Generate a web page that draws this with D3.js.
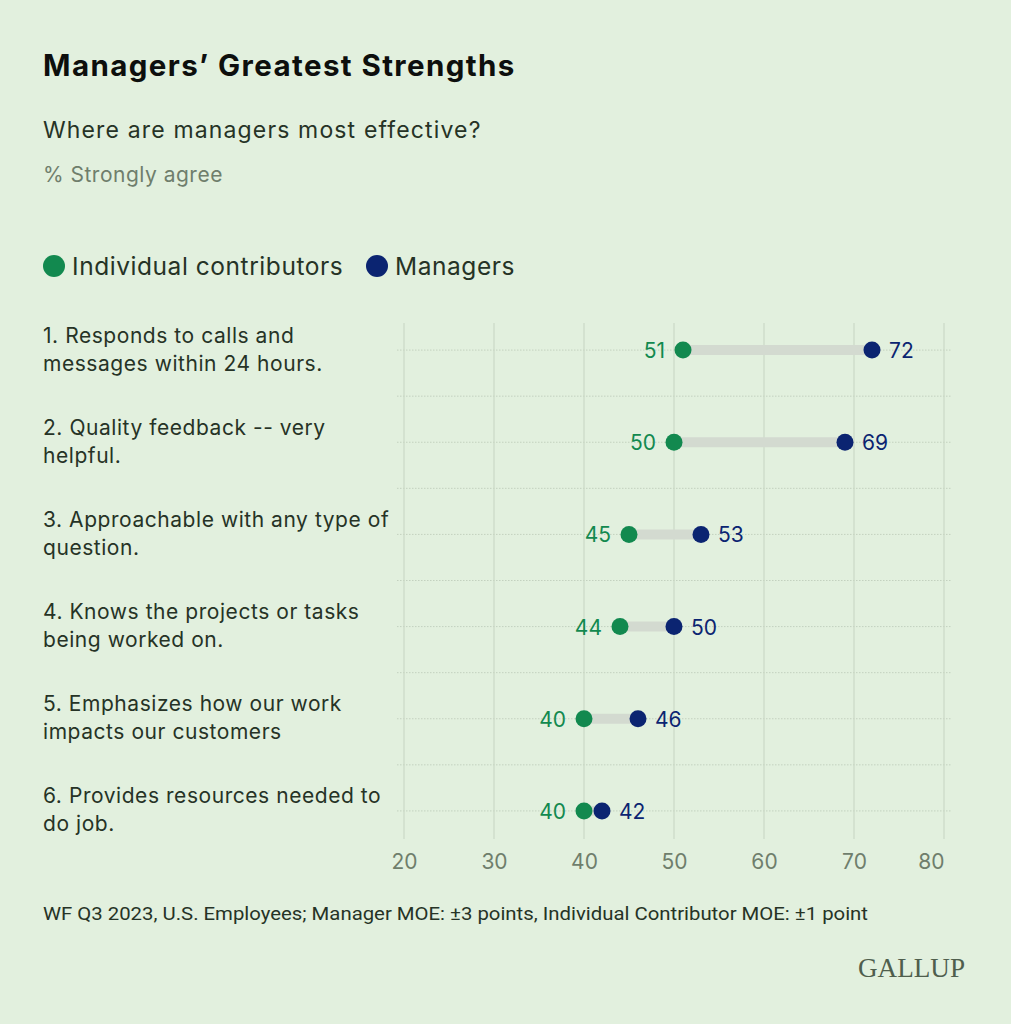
<!DOCTYPE html>
<html>
<head>
<meta charset="utf-8">
<script src="https://cdn.jsdelivr.net/npm/d3@7/dist/d3.min.js"></script>
<style>
  html, body { margin: 0; padding: 0; background: #e2f0de; }
  svg { display: block; }
</style>
</head>
<body>
<svg id="chart" width="1011" height="1024" font-family="Inter, 'Noto Sans', sans-serif"></svg>
<script>
// ---- data ----
const categories = [
  ["1. Responds to calls and", "messages within 24 hours."],
  ["2. Quality feedback -- very", "helpful."],
  ["3. Approachable with any type of", "question."],
  ["4. Knows the projects or tasks", "being worked on."],
  ["5. Emphasizes how our work", "impacts our customers"],
  ["6. Provides resources needed to", "do job."]
];
const individualContributors = [51, 50, 45, 44, 40, 40];
const managers = [72, 69, 53, 50, 46, 42];
const xTicks = [20, 30, 40, 50, 60, 70, 80];
const seriesNames = ["Individual contributors", "Managers"];

// ---- style ----
const BG = "#e2f0de";
const GREEN = "#12894f";
const NAVY = "#0b2471";
const GRID = "#cbd9c7";
const TEXT = "#263326";
const GREY = "#6f7e6c";

const svg = d3.select("#chart");
svg.append("rect").attr("width", 1011).attr("height", 1024).attr("fill", BG);

// Titles
svg.append("text").attr("x", 43).attr("y", 76)
  .attr("font-size", 29.5).attr("font-weight", 700).attr("fill", "#0d0f0d")
  .attr("letter-spacing", 1.4)
  .text("Managers’ Greatest Strengths");
svg.append("text").attr("x", 43).attr("y", 138)
  .attr("font-size", 23).attr("fill", TEXT).attr("letter-spacing", 1.15)
  .text("Where are managers most effective?");
svg.append("text").attr("x", 43).attr("y", 182)
  .attr("font-size", 21).attr("fill", GREY).attr("letter-spacing", 0.5)
  .text("% Strongly agree");

// Legend
const legend = svg.append("g");
const legX = [54, 377];
seriesNames.forEach((n, i) => {
  legend.append("circle").attr("cx", legX[i]).attr("cy", 266).attr("r", 11)
    .attr("fill", i === 0 ? GREEN : NAVY);
  legend.append("text").attr("x", legX[i] + 18).attr("y", 275)
    .attr("font-size", 24.5).attr("fill", TEXT).attr("letter-spacing", 0.55).text(n);
});

// Scales
const x = d3.scaleLinear().domain([20, 80]).range([404, 944]);
const y = d3.scaleBand().domain(d3.range(categories.length)).range([304, 857]);

const plot = svg.append("g");

// horizontal dotted lines: at row centers and row boundaries
const hLines = [];
categories.forEach((c, i) => {
  hLines.push(y(i) + y.bandwidth() / 2);
  if (i > 0) hLines.push(y(i));
});
plot.selectAll("line.h").data(hLines).join("line")
  .attr("x1", 397).attr("x2", 951)
  .attr("y1", d => d).attr("y2", d => d)
  .attr("stroke", "#c3d1bf").attr("stroke-width", 1)
  .attr("stroke-dasharray", "1.5,1.5");

// vertical gridlines
plot.selectAll("line.v").data(xTicks).join("line")
  .attr("x1", d => x(d)).attr("x2", d => x(d))
  .attr("y1", 323).attr("y2", 839)
  .attr("stroke", GRID).attr("stroke-width", 1.2);

// x axis via d3.axisBottom
const axis = d3.axisBottom(x).tickValues(xTicks).tickSize(0).tickPadding(0);
const axG = svg.append("g").attr("transform", "translate(0,853)").call(axis);
axG.select(".domain").remove();
axG.attr("font-family", null).attr("font-size", null);
axG.selectAll("text")
  .attr("font-size", 21).attr("fill", GREY).attr("dy", "0.75em")
  .attr("text-anchor", (d, i) => i === xTicks.length - 1 ? "end" : "middle");

// Category labels
const labels = svg.append("g");
categories.forEach((lines, i) => {
  const cy = y(i) + y.bandwidth() / 2;
  const t = labels.append("text").attr("font-size", 21).attr("fill", TEXT)
    .attr("letter-spacing", 0.55);
  lines.forEach((ln, j) => {
    t.append("tspan").attr("x", 43).attr("y", cy - 7.5 + j * 28).text(ln);
  });
});

// connectors
const rows = categories.map((c, i) => ({ i, ic: individualContributors[i], m: managers[i] }));
plot.selectAll("line.conn").data(rows).join("line")
  .attr("x1", d => x(d.ic)).attr("x2", d => x(d.m))
  .attr("y1", d => y(d.i) + y.bandwidth() / 2).attr("y2", d => y(d.i) + y.bandwidth() / 2)
  .attr("stroke", "#d3dad0").attr("stroke-width", 10);

// dots
plot.selectAll("circle.ic").data(rows).join("circle")
  .attr("cx", d => x(d.ic)).attr("cy", d => y(d.i) + y.bandwidth() / 2)
  .attr("r", 8.5).attr("fill", GREEN);
plot.selectAll("circle.m").data(rows).join("circle")
  .attr("cx", d => x(d.m)).attr("cy", d => y(d.i) + y.bandwidth() / 2)
  .attr("r", 8.5).attr("fill", NAVY);

// value labels
plot.selectAll("text.ic").data(rows).join("text")
  .attr("x", d => x(d.ic) - 18).attr("y", d => y(d.i) + y.bandwidth() / 2 + 8)
  .attr("text-anchor", "end").attr("font-size", 21).attr("fill", GREEN)
  .text(d => d.ic);
plot.selectAll("text.m").data(rows).join("text")
  .attr("x", d => x(d.m) + 17).attr("y", d => y(d.i) + y.bandwidth() / 2 + 8)
  .attr("text-anchor", "start").attr("font-size", 21).attr("fill", NAVY)
  .text(d => d.m);

// footer
svg.append("text").attr("x", 43).attr("y", 920)
  .attr("font-size", 17.5).attr("fill", TEXT)
  .attr("font-family", "'Roboto', sans-serif")
  .attr("textLength", 825).attr("lengthAdjust", "spacingAndGlyphs")
  .text("WF Q3 2023, U.S. Employees; Manager MOE: ±3 points, Individual Contributor MOE: ±1 point");

// logo
svg.append("text").attr("x", 858).attr("y", 977).attr("text-anchor", "start")
  .attr("font-family", "'Liberation Serif', 'DejaVu Serif', serif")
  .attr("font-size", 27).attr("fill", "#4f5e4d")
  .attr("textLength", 107).attr("lengthAdjust", "spacingAndGlyphs")
  .text("GALLUP");
</script>
</body>
</html>
